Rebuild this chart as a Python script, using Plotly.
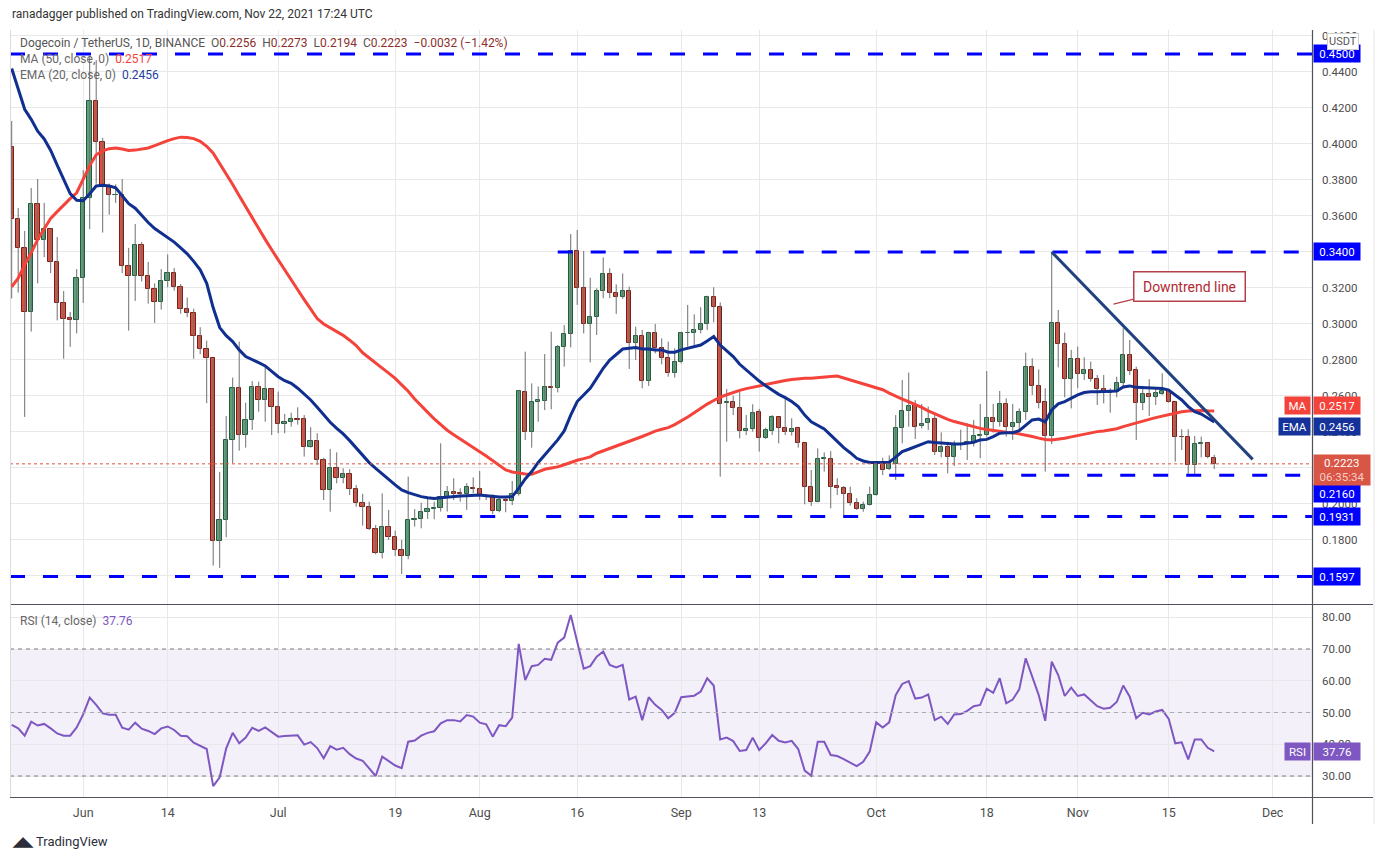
import pandas as pd
import plotly.graph_objects as go

# ---------------- data ----------------
start_date = "2021-05-21"

open_ = [.3981,.3583,.3423,.3067,.3664,.3465,.3530,.3343,.3117,.3033,.3020,.3258,.3701,.4237,.4011,.3765,.3714,.3718,.3320,.3264,
         .3437,.3264,.3192,.3123,.3241,.3283,.3207,.3081,.3063,.2935,.2860,.2809,.1793,.1911,.2356,.2643,.2383,.2467,.2648,.2578,
         .2637,.2541,.2442,.2455,.2470,.2470,.2315,.2350,.2244,.2078,.2198,.2143,.2167,.2081,.2004,.1982,.1859,.1726,.1874,.1819,
         .1745,.1711,.1911,.1915,.1954,.1974,.1980,.2041,.2065,.2059,.2054,.2091,.2081,.2046,.2037,.1963,.2022,.2015,.2054,.2620,
         .2402,.2565,.2574,.2648,.2643,.2870,.2944,.3406,.3198,.2998,.3037,.3183,.3276,.3170,.3152,.3183,.2893,.2933,.2685,.2948,
         .2865,.2813,.2726,.2787,.2948,.2948,.2967,.2998,.3148,.3093,.2559,.2569,.2532,.2406,.2417,.2509,.2365,.2407,.2481,.2424,
         .2402,.2420,.2337,.2093,.2013,.2250,.2250,.2100,.2087,.2054,.2004,.1970,.1994,.2050,.2230,.2193,.2222,.2420,.2519,.2550,
         .2433,.2448,.2470,.2291,.2315,.2263,.2328,.2333,.2346,.2378,.2381,.2476,.2457,.2556,.2430,.2448,.2513,.2759,.2656,.2565,
         .2380,.3004,.2887,.2693,.2804,.2720,.2744,.2693,.2637,.2615,.2620,.2670,.2828,.2744,.2559,.2609,.2596,.2611,.2630,.2569,
         .2374,.2374,.2217,.2333,.2337,.2256]
high_ = [.4128,.3645,.3517,.3756,.3805,.3673,.3530,.3483,.3183,.3067,.3305,.3855,.4485,.4466,.4034,.3780,.3776,.3805,.3423,.3555,
         .3455,.3345,.3226,.3305,.3386,.3311,.3222,.3147,.3085,.2982,.2907,.2809,.2178,.2489,.2702,.2902,.2563,.2683,.2680,.2763,
         .2643,.2624,.2500,.2507,.2537,.2494,.2426,.2393,.2257,.2306,.2287,.2198,.2193,.2106,.2056,.2013,.1883,.2059,.1967,.1852,
         .1800,.2152,.1972,.2007,.2031,.2013,.2337,.2100,.2143,.2087,.2115,.2148,.2183,.2054,.2054,.2035,.2041,.2128,.2633,.2846,
         .2670,.2652,.2833,.2957,.2883,.2994,.3500,.3522,.3406,.3257,.3198,.3370,.3309,.3220,.3281,.3207,.2985,.2967,.2957,.3000,
         .2920,.2902,.2865,.2957,.3106,.3054,.3093,.3157,.3204,.3120,.2639,.2602,.2633,.2494,.2554,.2528,.2424,.2494,.2485,.2596,
         .2476,.2420,.2337,.2189,.2309,.2287,.2294,.2143,.2100,.2096,.2032,.2013,.2096,.2235,.2257,.2270,.2494,.2689,.2730,.2578,
         .2556,.2541,.2494,.2398,.2346,.2352,.2413,.2448,.2467,.2556,.2739,.2556,.2628,.2587,.2556,.2531,.2841,.2809,.2748,.2643,
         .3402,.3078,.2952,.2856,.2874,.2815,.2791,.2717,.2717,.2643,.2707,.2976,.2911,.2763,.2656,.2693,.2643,.2726,.2637,.2569,
         .2415,.2415,.2378,.2374,.2341,.2273]
low_ = [.3142,.3174,.2484,.2958,.3226,.3371,.3283,.3020,.2807,.2873,.2948,.3117,.3527,.3780,.3508,.3607,.3673,.3283,.2963,.3128,
        .3236,.3113,.3006,.3080,.3204,.3185,.3057,.3038,.2807,.2832,.2560,.1658,.1645,.1815,.2226,.2296,.2313,.2411,.2513,.2457,
        .2383,.2393,.2393,.2430,.2441,.2263,.2313,.2217,.2022,.1957,.2115,.2115,.2050,.1985,.1880,.1855,.1720,.1698,.1800,.1711,
        .1611,.1693,.1874,.1865,.1917,.1915,.1958,.1958,.2022,.2013,.1967,.2059,.2022,.2022,.1943,.1954,.1954,.1994,.2046,.2356,
        .2313,.2457,.2522,.2526,.2620,.2763,.2870,.3106,.2948,.2787,.2939,.3143,.3143,.3056,.3139,.2750,.2800,.2643,.2656,.2837,
        .2776,.2707,.2702,.2781,.2874,.2883,.2948,.2967,.3009,.2152,.2346,.2494,.2365,.2383,.2402,.2291,.2361,.2383,.2337,.2383,
        .2380,.2313,.1998,.1989,.2009,.2180,.1976,.2050,.1939,.1991,.1967,.1957,.1991,.2046,.2161,.2189,.2133,.2337,.2430,.2361,
        .2420,.2411,.2272,.2259,.2170,.2211,.2300,.2244,.2319,.2254,.2374,.2396,.2430,.2374,.2356,.2411,.2467,.2606,.2531,.2180,
        .2333,.2759,.2593,.2531,.2643,.2689,.2680,.2550,.2559,.2507,.2593,.2656,.2717,.2356,.2522,.2489,.2550,.2606,.2563,.2235,
        .2300,.2167,.2161,.2259,.2254,.2194]
close_ = [.3583,.3423,.3067,.3664,.3465,.3530,.3343,.3117,.3029,.3020,.3258,.3701,.4237,.4011,.3765,.3714,.3718,.3320,.3264,.3437,
          .3264,.3192,.3123,.3241,.3283,.3207,.3081,.3063,.2935,.2860,.2809,.1793,.1911,.2356,.2643,.2383,.2467,.2648,.2578,.2637,
          .2541,.2442,.2455,.2470,.2468,.2315,.2350,.2244,.2078,.2198,.2143,.2167,.2081,.2004,.1982,.1859,.1726,.1874,.1819,.1745,
          .1711,.1911,.1915,.1954,.1970,.1980,.2041,.2065,.2057,.2054,.2093,.2081,.2046,.2037,.1963,.2022,.2015,.2054,.2628,.2402,
          .2565,.2578,.2648,.2643,.2870,.2944,.3406,.3198,.2998,.3037,.3183,.3276,.3170,.3152,.3183,.2893,.2933,.2685,.2948,.2865,
          .2813,.2726,.2787,.2948,.2952,.2967,.2998,.3148,.3093,.2554,.2569,.2532,.2406,.2417,.2504,.2365,.2411,.2481,.2420,.2402,
          .2415,.2337,.2093,.2013,.2250,.2252,.2093,.2087,.2054,.2004,.1970,.1994,.2050,.2226,.2189,.2222,.2420,.2519,.2544,.2430,
          .2444,.2470,.2291,.2315,.2263,.2328,.2333,.2346,.2378,.2381,.2476,.2457,.2556,.2426,.2448,.2513,.2759,.2656,.2563,.2380,
          .3004,.2887,.2693,.2804,.2720,.2744,.2693,.2637,.2615,.2620,.2670,.2828,.2741,.2559,.2609,.2596,.2615,.2630,.2569,.2370,
          .2370,.2217,.2333,.2337,.2259,.2223]

ma50 = [.3207,.3254,.3329,.3395,.3470,.3532,.3587,.3624,.3662,.3696,.3729,.3803,.3880,.3940,.3962,.3974,.3978,.3972,.3964,.3966,
        .3970,.3978,.3991,.4006,.4019,.4030,.4038,.4036,.4030,.4015,.3987,.3949,.3893,.3837,.3775,.3712,.3650,.3590,.3530,.3470,
        .3412,.3355,.3300,.3245,.3190,.3135,.3080,.3030,.3000,.2979,.2958,.2937,.2910,.2880,.2840,.2810,.2782,.2755,.2727,.2698,
        .2662,.2626,.2583,.2543,.2509,.2473,.2440,.2410,.2385,.2362,.2340,.2316,.2290,.2266,.2241,.2215,.2189,.2178,.2172,.2167,
        .2165,.2178,.2193,.2200,.2206,.2218,.2232,.2243,.2252,.2262,.2282,.2295,.2309,.2320,.2333,.2345,.2359,.2375,.2390,.2405,
        .2415,.2424,.2441,.2460,.2483,.2507,.2533,.2555,.2575,.2594,.2607,.2620,.2631,.2641,.2649,.2658,.2665,.2673,.2680,.2686,
        .2692,.2696,.2698,.2698,.2700,.2705,.2708,.2711,.2700,.2686,.2678,.2668,.2655,.2646,.2635,.2616,.2598,.2582,.2568,.2553,
        .2537,.2517,.2500,.2484,.2470,.2458,.2448,.2439,.2428,.2420,.2414,.2408,.2403,.2399,.2396,.2390,.2383,.2375,.2366,.2358,
        .2356,.2360,.2365,.2373,.2381,.2389,.2397,.2402,.2406,.2410,.2418,.2430,.2439,.2448,.2459,.2470,.2480,.2489,.2498,.2507,
        .2512,.2516,.2519,.2520,.2518,.2517]
ema20 = [.4419,.4306,.4193,.4137,.4071,.4028,.3964,.3883,.3799,.3724,.3687,.3685,.3724,.3767,.3771,.3767,.3756,.3711,.3668,.3643,
         .3602,.3564,.3530,.3504,.3480,.3455,.3423,.3390,.3348,.3301,.3226,.3090,.2980,.2935,.2902,.2856,.2819,.2800,.2785,.2767,
         .2735,.2707,.2685,.2670,.2643,.2611,.2578,.2537,.2494,.2454,.2420,.2389,.2352,.2313,.2272,.2230,.2198,.2170,.2137,.2106,
         .2078,.2063,.2050,.2041,.2035,.2031,.2035,.2039,.2041,.2044,.2046,.2050,.2050,.2046,.2041,.2039,.2039,.2041,.2087,.2139,
         .2180,.2231,.2272,.2313,.2356,.2406,.2494,.2569,.2606,.2643,.2698,.2754,.2800,.2831,.2861,.2865,.2869,.2861,.2861,.2856,
         .2856,.2843,.2843,.2856,.2865,.2878,.2883,.2906,.2930,.2883,.2850,.2819,.2776,.2744,.2717,.2683,.2657,.2633,.2609,.2591,
         .2569,.2541,.2494,.2457,.2435,.2417,.2383,.2346,.2313,.2285,.2254,.2239,.2231,.2230,.2230,.2232,.2260,.2291,.2304,.2319,
         .2333,.2346,.2341,.2337,.2333,.2333,.2333,.2337,.2343,.2356,.2359,.2374,.2393,.2396,.2396,.2407,.2439,.2467,.2472,.2457,
         .2522,.2556,.2569,.2587,.2606,.2619,.2624,.2624,.2624,.2624,.2628,.2650,.2656,.2648,.2646,.2643,.2643,.2641,.2633,.2606,
         .2578,.2541,.2513,.2500,.2476,.2456]
rsi14 = [46.1,45.0,42.7,47.1,45.9,46.4,45.0,43.4,42.7,42.7,45.3,49.4,54.7,52.4,49.7,49.3,49.3,45.2,44.6,46.8,
         44.9,44.2,43.2,45.0,45.6,44.5,42.7,42.5,40.5,39.4,38.5,26.8,29.6,38.7,43.6,40.3,42.1,45.2,44.2,45.3,
         43.8,42.4,42.6,42.8,42.8,39.9,40.7,38.8,35.6,39.4,38.3,38.9,36.9,35.5,34.8,32.4,30.0,36.1,34.8,33.3,
         32.5,40.8,41.2,42.7,43.6,44.1,46.6,47.6,47.6,47.2,49.2,48.7,46.8,46.3,42.4,46.0,45.7,48.4,71.6,60.2,
         64.6,65.0,66.9,66.6,72.0,73.6,80.7,71.8,63.8,64.6,67.6,69.2,65.0,64.2,65.0,54.1,55.0,47.6,54.8,52.4,
         50.8,48.2,49.9,54.8,55.0,55.3,56.6,60.8,58.5,41.5,42.1,41.0,37.9,38.2,42.1,38.2,40.3,42.9,41.1,40.6,
         41.1,38.5,31.7,30.1,40.8,40.8,36.6,36.3,35.3,34.2,33.1,34.5,37.7,46.9,45.3,46.9,55.5,59.0,59.9,54.4,
         54.7,55.7,47.6,48.7,46.4,49.4,49.5,50.5,52.0,52.4,57.5,56.2,60.8,52.9,54.1,57.3,67.1,61.3,55.5,47.4,
         66.0,61.8,55.2,57.8,55.2,55.7,53.9,52.0,51.2,51.5,53.3,58.5,55.0,48.2,49.9,49.4,50.3,50.8,48.0,40.3,
         40.6,35.2,41.5,41.5,38.9,37.76]

x_tick_dates = ["2021-06-01","2021-06-14","2021-07-01","2021-07-19","2021-08-01","2021-08-16","2021-09-01",
                "2021-09-13","2021-10-01","2021-10-18","2021-11-01","2021-11-15","2021-12-01"]
x_tick_labels = ["Jun","14","Jul","19","Aug","16","Sep","13","Oct","18","Nov","15","Dec"]
price_ticks = [0.16,0.18,0.20,0.22,0.24,0.26,0.28,0.30,0.32,0.34,0.36,0.38,0.40,0.42,0.44,0.46]
# labels hidden behind price-scale tags in the reference are left blank
price_tick_labels = ["","0.1800","0.2000","","0.2400","0.2600","0.2800","0.3000","0.3200",
                     "","0.3600","0.3800","0.4000","0.4200","0.4400","0.4600"]
rsi_ticks = [30,40,50,60,70,80]
rsi_tick_labels = ["30.00","40.00","50.00","60.00","70.00","80.00"]

# drawn horizontal levels (value, start date; None = full width)
level_values = [0.4500, 0.3400, 0.2160, 0.1931, 0.1597]
level_starts = [None, "2021-08-13", "2021-10-03", "2021-07-27", None]
level_label_shift = [0, 0, -18, 0, 0]

trend_start = ("2021-10-28", 0.3400)
trend_end = ("2021-11-27 22:00", 0.2248)
callout_tip = ("2021-11-06 12:00", 0.3111)

last_price = 0.2223
countdown = "06:35:34"
ma_last, ema_last, rsi_last = 0.2517, 0.2456, 37.76

# ---------------- styling ----------------
FONT = "Roboto"
UP_FILL, UP_LINE = "#5ba27b", "#1f5c3b"
DN_FILL, DN_LINE = "#d9513f", "#7a1e17"
WICK = "#6e6e6e"
GRID = "#e8e8ea"
TXT = "#4d4d4d"
BLUE = "#0000ff"
MA_COL = "#f4433a"
EMA_COL = "#102f8f"
RSI_COL = "#7e57c2"

W, H = 1384, 860
ML, MR, MT, MB = 10, 72, 30, 63
PW, PH = W - ML - MR, H - MT - MB
MAIN_BOTTOM_PX, RSI_TOP_PX = 604, 605


def pxx(px):
    return (px - ML) / PW


def pxy(py):
    return (H - MB - py) / PH


dates = pd.date_range(start_date, periods=len(close_), freq="D")
day_ms = 86400000

# wicks
wx, wy = [], []
for d, lo, hi in zip(dates, low_, high_):
    wx += [d, d, None]
    wy += [lo, hi, None]

body_base = [min(o, c) for o, c in zip(open_, close_)]
body_h = [max(abs(c - o), 0.0003) for o, c in zip(open_, close_)]
is_up = [c >= o for o, c in zip(open_, close_)]
fills = [UP_FILL if u else DN_FILL for u in is_up]
lines = [UP_LINE if u else DN_LINE for u in is_up]

fig = go.Figure()
fig.add_trace(go.Scatter(x=wx, y=wy, mode="lines", line=dict(color=WICK, width=1),
                         hoverinfo="skip", showlegend=False, xaxis="x", yaxis="y"))
fig.add_trace(go.Bar(x=dates, y=body_h, base=body_base, width=[0.68 * day_ms] * len(dates),
                     marker=dict(color=fills, line=dict(color=lines, width=1)),
                     showlegend=False, xaxis="x", yaxis="y"))
fig.add_trace(go.Scatter(x=dates, y=ma50, mode="lines", line=dict(color=MA_COL, width=3),
                         showlegend=False, xaxis="x", yaxis="y"))
fig.add_trace(go.Scatter(x=dates, y=ema20, mode="lines", line=dict(color=EMA_COL, width=3),
                         showlegend=False, xaxis="x", yaxis="y"))
fig.add_trace(go.Scatter(x=dates, y=rsi14, mode="lines", line=dict(color=RSI_COL, width=2),
                         showlegend=False, xaxis="x2", yaxis="y2"))

x_range = [pd.Timestamp("2021-05-20 17:45"), pd.Timestamp("2021-12-07 01:00")]
main_dom = [pxy(MAIN_BOTTOM_PX), 1]
rsi_dom = [0, pxy(RSI_TOP_PX)]

shapes = []
# RSI band
shapes.append(dict(type="rect", xref="x2 domain", x0=0, x1=1, yref="y2", y0=30, y1=70,
                   fillcolor="rgba(126,87,194,0.09)", line=dict(width=0), layer="below"))
for v, c in [(70, "#7b7b85"), (50, "#ababb5"), (30, "#7b7b85")]:
    shapes.append(dict(type="line", xref="x2 domain", x0=0, x1=1, yref="y2", y0=v, y1=v,
                       line=dict(color=c, width=1, dash="4px,4px")))
# drawn levels
for v, s in zip(level_values, level_starts):
    if s is None:
        shapes.append(dict(type="line", xref="x domain", x0=0, x1=1, yref="y", y0=v, y1=v,
                           line=dict(color=BLUE, width=3, dash="15px,18px")))
    else:
        shapes.append(dict(type="line", xref="x", x0=s, x1=x_range[1], yref="y", y0=v, y1=v,
                           line=dict(color=BLUE, width=3, dash="15px,18px")))
# current price dotted line
shapes.append(dict(type="line", xref="x domain", x0=0, x1=1, yref="y", y0=last_price, y1=last_price,
                   line=dict(color="#e0533f", width=1, dash="dot")))
# downtrend line
shapes.append(dict(type="line", xref="x", x0=trend_start[0], x1=trend_end[0], yref="y",
                   y0=trend_start[1], y1=trend_end[1], line=dict(color="#21427f", width=3)))
# frame lines
shapes.append(dict(type="line", xref="paper", yref="paper", x0=0, x1=pxx(1373),
                   y0=pxy(604.5), y1=pxy(604.5), line=dict(color="#50535e", width=1.2)))
shapes.append(dict(type="line", xref="paper", yref="paper", x0=0, x1=pxx(1373),
                   y0=pxy(797.5), y1=pxy(797.5), line=dict(color="#50535e", width=1.2)))
shapes.append(dict(type="line", xref="paper", yref="paper", x0=pxx(1312.5), x1=pxx(1312.5),
                   y0=pxy(824), y1=1, line=dict(color="#50535e", width=1.2)))
shapes.append(dict(type="line", xref="paper", yref="paper", x0=pxx(10.5), x1=pxx(10.5),
                   y0=0, y1=1, line=dict(color="#dcdcdc", width=1)))
shapes.append(dict(type="line", xref="paper", yref="paper", x0=pxx(1374), x1=pxx(1374),
                   y0=pxy(824), y1=1, line=dict(color="#e4e4e4", width=1)))

ann = []


def box(y, text, bg, yref="y", yshift=0, width=42, color="white", left=False, height=13):
    ann.append(dict(xref="paper", x=1, xanchor="right" if left else "left",
                    xshift=-1 if left else 1, yref=yref, y=y, yanchor="middle", yshift=yshift,
                    text=text, showarrow=False, bgcolor=bg, borderpad=2, width=width, height=height,
                    font=dict(family=FONT, size=11.5, color=color)))


for v, sh in zip(level_values, level_label_shift):
    box(v, f"{v:.4f}", BLUE, yshift=sh)
box(ma_last, f"{ma_last:.4f}", MA_COL, yshift=5)
box(ma_last, "MA", MA_COL, yshift=5, left=True, width=21)
box(ema_last, f"{ema_last:.4f}", "#14329a", yshift=-5)
box(ema_last, "EMA", "#14329a", yshift=-5, left=True, width=27)
ann.append(dict(xref="paper", x=1, xanchor="left", xshift=1, yref="y", y=last_price, yanchor="middle",
                yshift=-6, showarrow=False, bgcolor="#d95545", borderpad=2, width=52, height=26,
                text=f"{last_price:.4f}<br><span style='color:#f7cdc6'>{countdown}</span>",
                font=dict(family=FONT, size=11.5, color="white")))
box(rsi_last, f"{rsi_last:.2f}", RSI_COL, yref="y2")
box(rsi_last, "RSI", RSI_COL, yref="y2", left=True, width=21)
# USDT tag
ann.append(dict(xref="paper", x=pxx(1342.5), xanchor="center", yref="paper", y=pxy(42), yanchor="middle",
                text="USDT", showarrow=False, bgcolor="white", bordercolor="#cfcfcf", borderwidth=1,
                borderpad=1, font=dict(family=FONT, size=11, color="#555")))

# legends
ann.append(dict(xref="paper", x=pxx(18), xanchor="left", yref="paper", y=pxy(42.5), yanchor="middle",
                showarrow=False, font=dict(family=FONT, size=12, color="#555"),
                text=("Dogecoin / TetherUS, 1D, BINANCE&nbsp;&nbsp;"
                      "O<span style='color:#8c2f2a'>0.2256</span>&nbsp;&nbsp;"
                      "H<span style='color:#8c2f2a'>0.2273</span>&nbsp;&nbsp;"
                      "L<span style='color:#8c2f2a'>0.2194</span>&nbsp;&nbsp;"
                      "C<span style='color:#8c2f2a'>0.2223</span>&nbsp;&nbsp;"
                      "<span style='color:#8c2f2a'>−0.0032 (−1.42%)</span>")))
ann.append(dict(xref="paper", x=pxx(18), xanchor="left", yref="paper", y=pxy(58.5), yanchor="middle",
                showarrow=False, font=dict(family=FONT, size=12, color="#666"),
                text=f"MA (50, close, 0)&nbsp;&nbsp;<span style='color:{MA_COL}'>{ma_last:.4f}</span>"))
ann.append(dict(xref="paper", x=pxx(18), xanchor="left", yref="paper", y=pxy(75), yanchor="middle",
                showarrow=False, font=dict(family=FONT, size=12, color="#666"),
                text=f"EMA (20, close, 0)&nbsp;&nbsp;<span style='color:#1f3fa0'>{ema_last:.4f}</span>"))
ann.append(dict(xref="paper", x=pxx(18), xanchor="left", yref="paper", y=pxy(621), yanchor="middle",
                showarrow=False, font=dict(family=FONT, size=12, color="#666"),
                text=f"RSI (14, close)&nbsp;&nbsp;<span style='color:{RSI_COL}'>{rsi_last:.2f}</span>"))
# header and footer
ann.append(dict(xref="paper", x=pxx(10), xanchor="left", yref="paper", y=pxy(14), yanchor="middle",
                showarrow=False, font=dict(family=FONT, size=12, color="#333"),
                text="ranadagger published on TradingView.com, Nov 22, 2021 17:24 UTC"))
ann.append(dict(xref="paper", x=pxx(10), xanchor="left", yref="paper", y=pxy(842), yanchor="middle",
                showarrow=False, font=dict(family=FONT, size=13, color="#2a2e39"),
                text="<b>◢◣</b> TradingView"))
# callout
ann.append(dict(xref="x", yref="y", x=callout_tip[0], y=callout_tip[1], ax=76, ay=-18,
                showarrow=True, arrowhead=0, arrowwidth=1.3, arrowcolor="#b5404a", standoff=0,
                text="Downtrend line", bgcolor="white", bordercolor="#b5404a", borderwidth=1.5,
                borderpad=6, width=98, font=dict(family=FONT, size=14, color="#b22833")))

fig.update_layout(
    width=W, height=H, margin=dict(l=ML, r=MR, t=MT, b=MB),
    paper_bgcolor="white", plot_bgcolor="white", showlegend=False,
    font=dict(family=FONT, size=12, color=TXT), bargap=0,
    shapes=shapes, annotations=ann, hovermode=False,
    xaxis=dict(domain=[0, 1], anchor="y", type="date", range=x_range, tickvals=x_tick_dates,
               ticktext=x_tick_labels, showticklabels=False, showgrid=True, gridcolor=GRID,
               zeroline=False, showline=False, rangeslider=dict(visible=False)),
    xaxis2=dict(domain=[0, 1], anchor="y2", type="date", matches="x", range=x_range,
                tickvals=x_tick_dates, ticktext=x_tick_labels, showgrid=True, gridcolor=GRID,
                zeroline=False, showline=False, ticks="", ticklabelstandoff=6,
                tickfont=dict(family=FONT, size=12.5, color=TXT)),
    yaxis=dict(domain=main_dom, anchor="x", side="right", range=[0.14444, 0.46333],
               tickvals=price_ticks, ticktext=price_tick_labels, showgrid=True, gridcolor=GRID,
               zeroline=False, showline=False, ticks="", ticklabelstandoff=9,
               tickfont=dict(family=FONT, size=11.5, color=TXT)),
    yaxis2=dict(domain=rsi_dom, anchor="x2", side="right", range=[23.39, 83.86],
                tickvals=rsi_ticks, ticktext=rsi_tick_labels, showgrid=True, gridcolor=GRID,
                zeroline=False, showline=False, ticks="", ticklabelstandoff=9,
                tickfont=dict(family=FONT, size=11.5, color=TXT)),
)

fig.write_html("out.html", config={"displayModeBar": False},
               post_script="document.body.style.margin='0px';document.body.style.overflow='hidden';")
